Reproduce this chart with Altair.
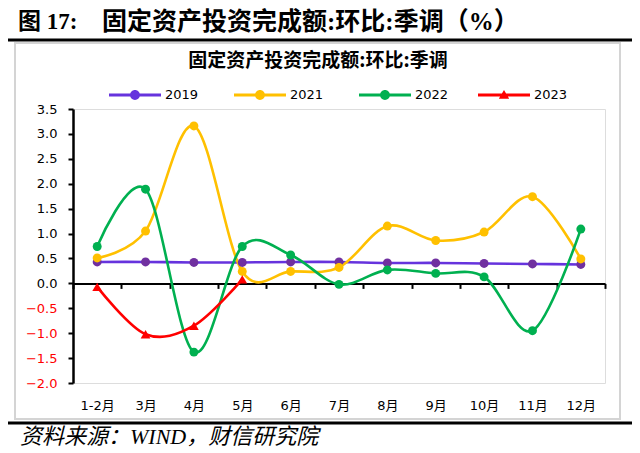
import altair as alt
import pandas as pd

# ---- data ----
months = ["1-2月", "3月", "4月", "5月", "6月", "7月", "8月", "9月", "10月", "11月", "12月"]
v2019 = [0.43, 0.43, 0.42, 0.42, 0.43, 0.43, 0.41, 0.41, 0.40, 0.39, 0.38]
v2021 = [0.51, 1.05, 3.16, 0.24, 0.24, 0.32, 1.15, 0.86, 1.03, 1.74, 0.49]
v2022 = [0.74, 1.89, -1.38, 0.74, 0.57, -0.02, 0.27, 0.20, 0.13, -0.95, 1.09]
v2023 = [-0.07, -1.02, -0.85, 0.08]
series_names = ["2019", "2021", "2022", "2023"]
line_colors = ["#6633DD", "#FFC000", "#00B050", "#FF0000"]
point_colors = ["#7030A0", "#FFC000", "#00B050", "#FF0000"]
y_ticks = [-2.0, -1.5, -1.0, -0.5, 0.0, 0.5, 1.0, 1.5, 2.0, 2.5, 3.0, 3.5]

main_title_a = ["图 17:"]
main_title_b = ["固定资产投资完成额:环比:季调（%）"]
inner_title = ["固定资产投资完成额:环比:季调"]
source_text = ["资料来源：WIND，财信研究院"]

rows = []
for name, vals, pc in zip(series_names, [v2019, v2021, v2022, v2023], point_colors):
    for m, v in zip(months, vals):
        rows.append({"月份": m, "值": v, "系列": name, "pc": pc})
df = pd.DataFrame(rows)

W, H = 532, 274
FONT = "DejaVu Sans, Noto Sans CJK SC"

xenc = alt.X(
    "月份:N",
    sort=months,
    bandPosition=0.5,
    scale=alt.Scale(type="band", domain=months, paddingInner=0, paddingOuter=0),
    axis=alt.Axis(
        title=None, labelAngle=0, domainColor="black", domainWidth=2,
        tickBand="extent", tickColor="black", tickWidth=2, tickSize=5,
        offset=-99.6, labelPadding=111, labelFont=FONT, labelFontSize=13,
        labelColor="black", grid=False,
    ),
)
yenc = alt.Y(
    "值:Q",
    scale=alt.Scale(domain=[-2, 3.5], nice=False, zero=False),
    axis=alt.Axis(
        title=None, values=y_ticks, format=".1f", grid=False,
        domainColor="black", domainWidth=2.5, tickColor="black", tickWidth=2,
        tickSize=5, labelPadding=11, labelFont=FONT, labelFontSize=13,
        labelColor=alt.condition("datum.value < 0", alt.value("#FF0000"), alt.value("black")),
    ),
)
color_scale = alt.Scale(domain=series_names, range=line_colors)

base = alt.Chart(df)

lines = base.mark_line(interpolate="cardinal", strokeWidth=2.6).encode(
    x=xenc, y=yenc,
    color=alt.Color("系列:N", scale=color_scale, legend=None),
    detail="系列:N",
)
circles = base.transform_filter("datum['系列'] != '2023'").mark_point(
    filled=True, opacity=1, size=80, shape="circle"
).encode(x=xenc, y=yenc, color=alt.Color("pc:N", scale=None))
triangles = base.transform_filter("datum['系列'] == '2023'").mark_point(
    filled=True, opacity=1, size=95, shape="triangle-up"
).encode(x=xenc, y=yenc, color=alt.Color("pc:N", scale=None))

line_dot = ("M-1,-0.055L1,-0.055L1,0.055L-1,0.055Z "
            "M0.19,0A0.19,0.19,0,1,1,-0.19,0A0.19,0.19,0,1,1,0.19,0Z")
line_tri = ("M-1,-0.055L1,-0.055L1,0.055L-1,0.055Z "
            "M0,-0.19L0.2,0.14L-0.2,0.14Z")


def make_legend(x, sym):
    return alt.Legend(
        title=None, orient="none", legendX=x, legendY=-40,
        direction="horizontal", columns=4, columnPadding=35,
        symbolType=sym, symbolSize=2704, symbolStrokeWidth=0, labelOffset=4,
        labelFont=FONT, labelFontSize=13, labelFontWeight="normal",
        labelColor="black", padding=0,
    )


legend_a = base.transform_filter("datum['值'] > 100").mark_point(
    filled=True, opacity=1
).encode(
    x=xenc, y=yenc,
    color=alt.Color("系列:N",
                    scale=alt.Scale(domain=series_names[:3], range=line_colors[:3]),
                    legend=make_legend(36, line_dot)),
)
legend_b = base.transform_filter("datum['值'] > 100").mark_point(
    filled=True, opacity=1
).encode(
    x=xenc, y=yenc,
    color=alt.Color("系列:N",
                    scale=alt.Scale(domain=series_names[3:], range=line_colors[3:]),
                    legend=make_legend(405, line_tri)),
)

one = pd.DataFrame({"k": [0]})
frame = alt.Chart(one).mark_rect(fill="transparent", stroke="#d4d4d4", strokeWidth=2).encode(
    x=alt.value(-58), x2=alt.value(547), y=alt.value(-66), y2=alt.value(310)
)
top_rule = alt.Chart(one).mark_rule(color="black", strokeWidth=3).encode(
    x=alt.value(-70), x2=alt.value(565), y=alt.value(-69)
)
bottom_rule = alt.Chart(one).mark_rule(color="black", strokeWidth=3).encode(
    x=alt.value(-70), x2=alt.value(565), y=alt.value(314)
)
t_main_a = alt.Chart(pd.DataFrame({"t": main_title_a})).mark_text(
    align="left", baseline="middle", font="Liberation Serif, Noto Sans CJK SC",
    fontSize=23, fontWeight="bold", color="black"
).encode(text="t:N", x=alt.value(-55), y=alt.value(-87))
t_main_b = alt.Chart(pd.DataFrame({"t": main_title_b})).mark_text(
    align="left", baseline="middle", font="Liberation Serif, Noto Sans CJK SC",
    fontSize=25, fontWeight="bold", color="black"
).encode(text="t:N", x=alt.value(29), y=alt.value(-87))
t_inner = alt.Chart(pd.DataFrame({"t": inner_title})).mark_text(
    align="center", baseline="middle", font="Noto Sans CJK SC",
    fontSize=19, fontWeight="bold", color="black"
).encode(text="t:N", x=alt.value(245), y=alt.value(-48))
t_source = alt.Chart(pd.DataFrame({"t": source_text})).mark_text(
    align="left", baseline="middle", font="Liberation Serif, Noto Sans CJK SC",
    fontSize=22, fontStyle="italic", color="black"
).encode(text="t:N", x=alt.value(-53), y=alt.value(328))

chart = alt.layer(
    frame, top_rule, bottom_rule, t_main_a, t_main_b, t_inner, t_source,
    lines, circles, triangles, legend_a, legend_b
).resolve_scale(color="independent").properties(
    width=W, height=H,
    autosize=alt.AutoSizeParams(type="none"),
    padding={"left": 65, "top": 101, "right": 27, "bottom": 70},
).configure_view(stroke=None).configure(background="white")

chart.save("out.html", embed_options={"renderer": "svg", "actions": False})
